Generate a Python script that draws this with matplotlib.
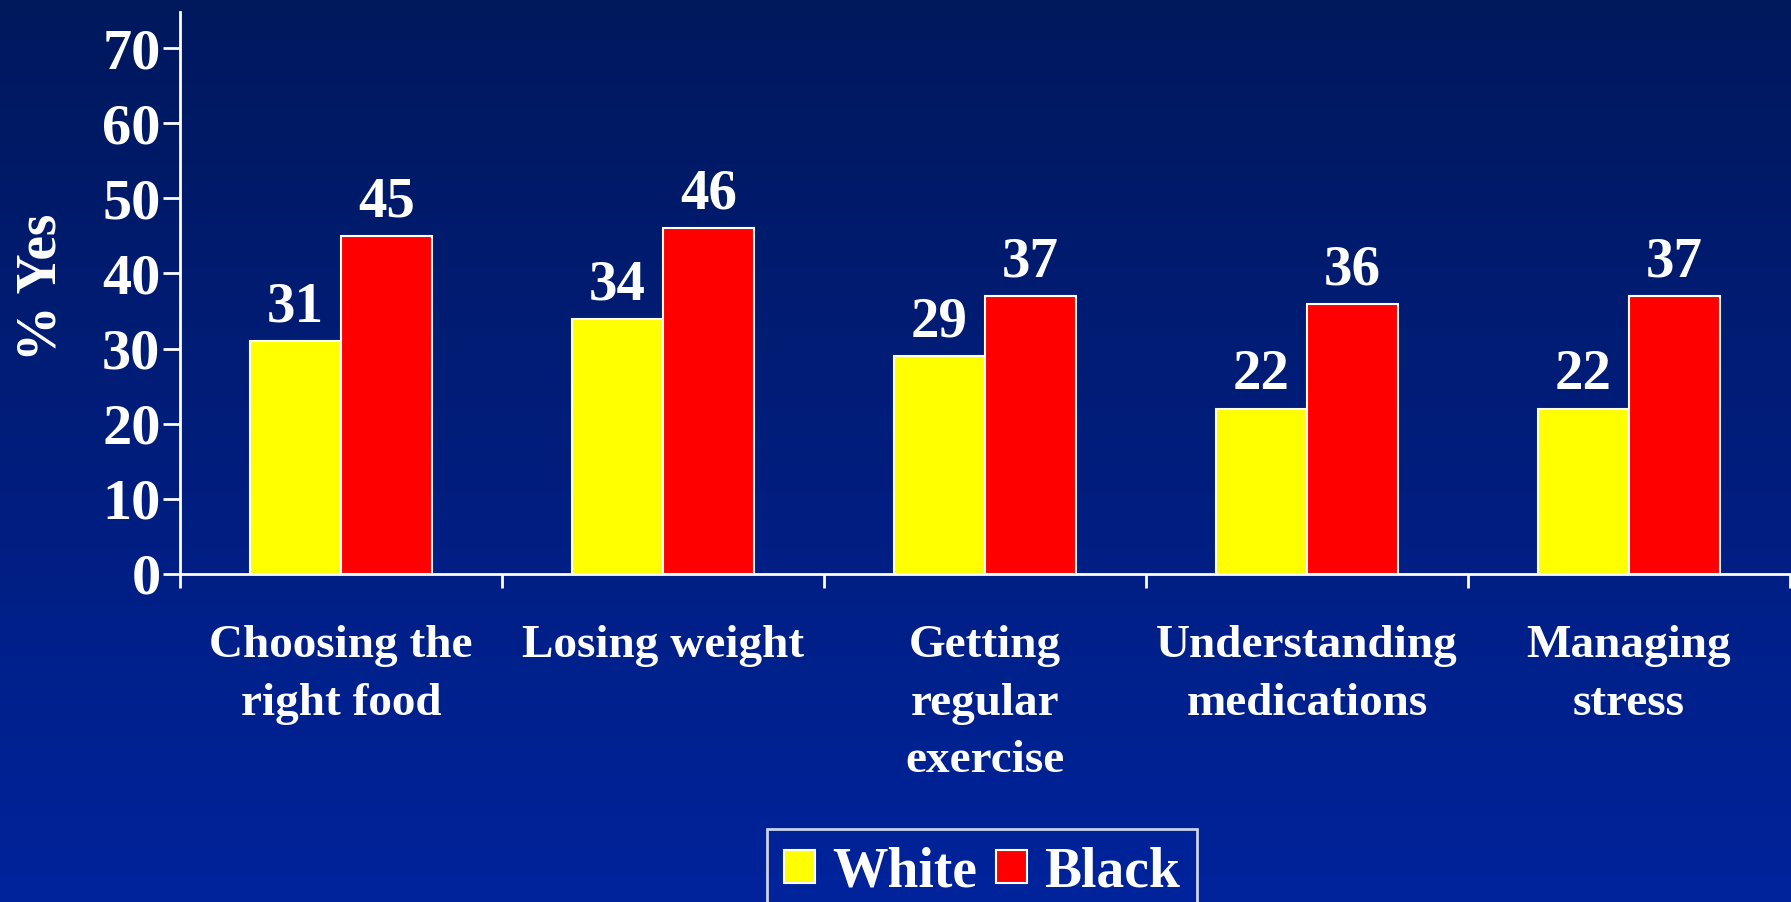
import numpy as np
import matplotlib
matplotlib.use("Agg")
import matplotlib.pyplot as plt

# values
categories = ["Choosing the\nright food", "Losing weight", "Getting\nregular\nexercise",
              "Understanding\nmedications", "Managing\nstress"]
white = [31, 34, 29, 22, 22]
black = [45, 46, 37, 36, 37]
yticks = [0, 10, 20, 30, 40, 50, 60, 70]

plt.rcParams['font.family'] = ['Liberation Serif', 'DejaVu Serif']
plt.rcParams['font.weight'] = 'bold'

fig = plt.figure(figsize=(17.91, 9.02), dpi=100)

# blue gradient background
bg = fig.add_axes([0, 0, 1, 1], zorder=-1)
top = np.array([0, 24, 92]) / 255
bot = np.array([0, 35, 156]) / 255
t = np.linspace(0, 1, 256)[:, None]
grad = top + (bot - top) * t
bg.imshow(grad[:, None, :].repeat(2, axis=1), aspect='auto', extent=[0, 1, 0, 1])
bg.axis('off')

ax = fig.add_axes([180 / 1791, 1 - 574 / 902, 1610 / 1791, 562 / 902])
ax.patch.set_alpha(0)

x = np.arange(len(categories))
w = 0.284
b1 = ax.bar(x - w / 2, white, w, color='#FFFF00', edgecolor='white', linewidth=1.5, label='White')
b2 = ax.bar(x + w / 2, black, w, color='#FF0000', edgecolor='white', linewidth=1.5, label='Black')

for bars, vals in ((b1, white), (b2, black)):
    for r, v in zip(bars, vals):
        ax.annotate(str(v), (r.get_x() + r.get_width() / 2, v), xytext=(0, 14),
                    textcoords='offset points', ha='center', va='baseline',
                    color='white', fontsize=41, fontweight='bold')

ax.set_xlim(-0.5, len(categories) - 0.5)
ax.set_ylim(0, 74.8)
ax.set_yticks(yticks)
ax.tick_params(axis='y', colors='white', labelsize=42, length=12, width=2, pad=2, direction='out')

ax.set_xticks(np.arange(len(categories) + 1) - 0.5)
ax.set_xticklabels([])
ax.tick_params(axis='x', which='major', colors='white', length=10, width=2, direction='out')
ax.set_xticks(x, minor=True)
ax.set_xticklabels(categories, minor=True, fontsize=34, fontweight='bold', color='white',
                   linespacing=1.48, va='top')
ax.tick_params(axis='x', which='minor', length=0, pad=37)

for s in ('top', 'right'):
    ax.spines[s].set_visible(False)
for s in ('left', 'bottom'):
    ax.spines[s].set_color('white')
    ax.spines[s].set_linewidth(2)

ax.set_ylabel('% Yes', color='white', fontsize=40, fontweight='bold')
ax.yaxis.set_label_coords(-0.07, 0.51)

leg = fig.legend(loc='lower center', bbox_to_anchor=(982 / 1791, -0.045), ncol=2,
                 fontsize=40, frameon=True, handlelength=0.56, handleheight=0.56,
                 handletextpad=0.3, columnspacing=0.35, borderpad=0.3, fancybox=False)
leg.get_frame().set_facecolor('none')
leg.get_frame().set_edgecolor('white')
leg.get_frame().set_linewidth(2)
for txt in leg.get_texts():
    txt.set_color('white')

fig.savefig('out.png', dpi=100)
